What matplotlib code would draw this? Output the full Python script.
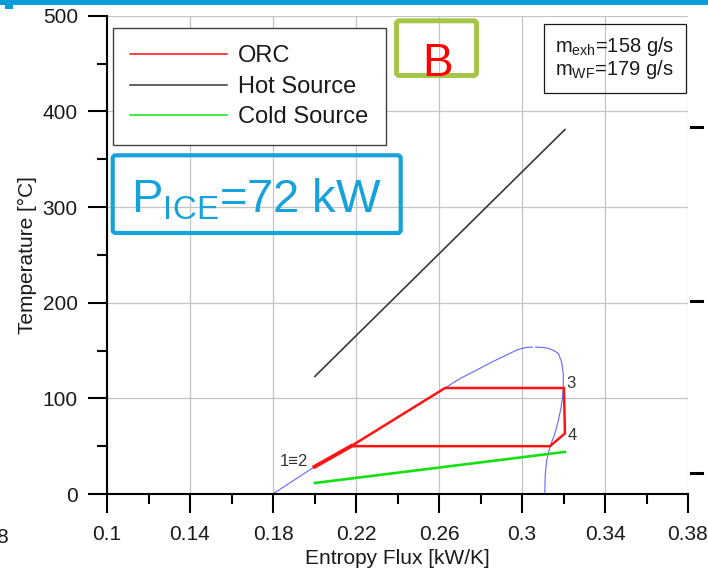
import matplotlib
matplotlib.use("Agg")
import matplotlib.pyplot as plt
from matplotlib.patches import Rectangle, FancyBboxPatch
from matplotlib.lines import Line2D
from matplotlib.ticker import MultipleLocator, FixedLocator
from matplotlib.transforms import Affine2D

plt.rcParams['font.family'] = ['Liberation Sans', 'DejaVu Sans']
plt.rcParams['mathtext.default'] = 'regular'

# --- data ---
x_ticks = [0.1, 0.14, 0.18, 0.22, 0.26, 0.3, 0.34, 0.38]
x_tick_labels = ["0.1", "0.14", "0.18", "0.22", "0.26", "0.3", "0.34", "0.38"]
y_ticks = [0, 100, 200, 300, 400, 500]

# saturation dome (two branches, small gap at the top)
dome_left_s = [0.1799, 0.2, 0.2176, 0.2629, 0.27, 0.2782, 0.286, 0.2942,
               0.2975, 0.3006, 0.303, 0.305]
dome_left_T = [0, 28.5, 50, 110.8, 120.5, 129.6, 138.5, 147, 150.5, 152.6, 153.4, 153.6]
dome_right_s = [0.3066, 0.31, 0.3125, 0.3149, 0.3175, 0.3191, 0.3199, 0.3199, 0.3196,
                0.3188, 0.3174, 0.3157, 0.3135, 0.3119, 0.3112, 0.311]
dome_right_T = [153.6, 153.2, 152.4, 150.5, 147, 138, 125, 113, 102,
                90, 76, 62, 50, 35, 20, 0]

# ORC cycle
orc_s = [0.2, 0.2176, 0.2629, 0.3202, 0.3207, 0.3135, 0.2176]
orc_T = [28.5, 50, 110.8, 110.8, 63.4, 50, 50]

hot_s = [0.2002, 0.3207]
hot_T = [123, 381]
cold_s = [0.2002, 0.3207]
cold_T = [11.5, 44]

point_labels = ["1\u22612", "3", "4"]
point_s = [0.197, 0.3213, 0.3222]
point_T = [29.3, 110.5, 56.4]

W, H = 708, 575
fig = plt.figure(figsize=(W / 100, H / 100), dpi=100)
px = Affine2D().scale(1 / W, -1 / H).translate(0, 1) + fig.transFigure

ax = fig.add_axes([107 / W, (H - 494) / H, 581 / W, 478.3 / H])
ax.set_xlim(0.1, 0.38)
ax.set_ylim(0, 500)

ax.xaxis.set_major_locator(FixedLocator(x_ticks))
ax.set_xticklabels(x_tick_labels)
ax.xaxis.set_minor_locator(MultipleLocator(0.02))
ax.yaxis.set_major_locator(FixedLocator(y_ticks))
ax.yaxis.set_minor_locator(MultipleLocator(50))

ax.grid(True, which='major', color='#c4c4c4', linewidth=0.9)
ax.set_axisbelow(True)
for side in ['top', 'right']:
    ax.spines[side].set_visible(False)
for side in ['left', 'bottom']:
    ax.spines[side].set_linewidth(1.5)
ax.tick_params(which='major', direction='out', length=14, width=1.5, labelsize=15,
               colors='black', labelcolor='#1a1a1a')
ax.tick_params(which='minor', direction='out', length=7, width=1.5, colors='black')
ax.tick_params(axis='x', which='major', pad=8)
ax.tick_params(axis='y', which='major', pad=7)

ax.set_xlabel("Entropy Flux [kW/K]", fontsize=15, color='#1a1a1a', labelpad=4)
ax.set_ylabel("Temperature [°C]", fontsize=15, color='#1a1a1a', labelpad=4)

ax.plot(dome_left_s, dome_left_T, color='#6464ff', lw=0.8, clip_on=False)
ax.plot(dome_right_s, dome_right_T, color='#6464ff', lw=0.8, clip_on=False)
ax.plot(hot_s, hot_T, color='#383838', lw=1.2)
ax.plot(cold_s, cold_T, color='#14e014', lw=1.9)
ax.plot(orc_s, orc_T, color='#ff1414', lw=1.8, solid_joinstyle='miter')
ax.plot(orc_s[:2], orc_T[:2], color='#ff1414', lw=2.8)

for lab, s, t in zip(point_labels, point_s, point_T):
    ax.text(s, t, lab, fontsize=12, color='#333333',
            ha='right' if lab.startswith('1') else 'left', va='baseline')

handles = [Line2D([], [], color='#ff1414', lw=1.1),
           Line2D([], [], color='#383838', lw=1.1),
           Line2D([], [], color='#14e014', lw=1.1)]
leg = ax.legend(handles, ["ORC", "Hot Source", "Cold Source"], loc='upper left',
                bbox_to_anchor=(112.7, 28.3), bbox_transform=px, borderaxespad=0,
                fontsize=17, handlelength=4.1, handletextpad=0.5, labelspacing=0.36,
                borderpad=0.72, fancybox=False, framealpha=1, edgecolor='#404040')
leg.get_frame().set_linewidth(1.0)
for t in leg.get_texts():
    t.set_color('#1a1a1a')

# P_ICE box
fig.patches.append(FancyBboxPatch((112.7, 155.3), 288, 77.7,
                                  boxstyle="round,pad=0,rounding_size=3",
                                  transform=px, fill=False, edgecolor='#17a2db', lw=3))
fig.text(256, 213, r"P$_{ICE}$=72 kW", transform=px, fontsize=34, color='#17a2db',
         ha='center', va='baseline')

# B box
fig.patches.append(FancyBboxPatch((396.5, 20.8), 80, 54.7,
                                  boxstyle="round,pad=0,rounding_size=3",
                                  transform=px, fill=False, edgecolor='#a6c64a', lw=3.6))
fig.text(437.5, 76, "B", transform=px, fontsize=33, color='#ff0000',
         ha='center', va='baseline')

# mass flow box
fig.patches.append(Rectangle((544, 24.3), 141.7, 69, transform=px, fill=False,
                             edgecolor='#1a1a1a', lw=0.9))
fig.text(555, 52, r"m$_{exh}$=158 g/s", transform=px, fontsize=14.5,
         color='#1a1a1a', ha='left', va='baseline')
fig.text(555, 75, r"m$_{WF}$=179 g/s", transform=px, fontsize=14.5,
         color='#1a1a1a', ha='left', va='baseline')

# slide decorations around the panel
fig.patches.append(Rectangle((0, 0), W, 4.5, transform=px, color='#0b9bd7', lw=0))
fig.patches.append(Rectangle((5, 0), 7.5, 9, transform=px, color='#0b9bd7', lw=0))
for yy in [127.3, 300.7, 473]:
    fig.lines.append(Line2D([690.7, 702], [yy, yy], transform=px, color='black', lw=2.2))
fig.text(9, 543, "0.38", transform=px, fontsize=15, color='#1a1a1a',
         ha='right', va='baseline')

fig.savefig("out.png", dpi=100)
